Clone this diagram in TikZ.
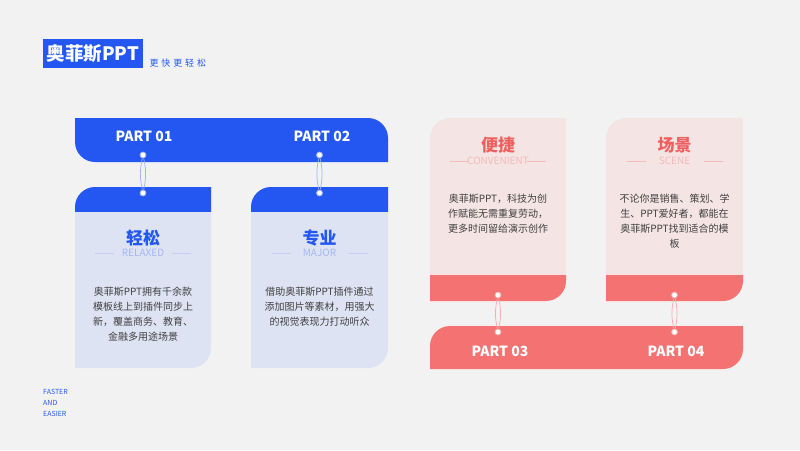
\documentclass[tikz,border=0pt]{standalone}
\usepackage{fontspec}
\setmainfont{Noto Sans CJK SC}
\usepackage{xcolor}
\usetikzlibrary{positioning}

\definecolor{bgray}{HTML}{F2F2F2}
\definecolor{pblue}{HTML}{2457F2}
\definecolor{lblue}{HTML}{DEE3F3}
\definecolor{sblue}{HTML}{A4B6F2}
\definecolor{lineblue}{HTML}{C3CEF2}
\definecolor{bring}{HTML}{9FB2EE}
\definecolor{pred}{HTML}{F47372}
\definecolor{lred}{HTML}{F5E4E4}
\definecolor{tred}{HTML}{EE6060}
\definecolor{sred}{HTML}{F4B9B9}
\definecolor{rring}{HTML}{F0AEAE}
\definecolor{textgray}{HTML}{404040}

\begin{document}
\begin{tikzpicture}[x=1pt,y=-1pt]
	\tikzset{ringdot/.style={circle,draw=#1,fill=white,line width=0.8pt,inner sep=0pt,minimum size=6pt},
		ringlink/.style={draw=#1,line width=0.7pt},
		partlabel/.style={text=white,font=\bfseries\fontsize{14}{16}\selectfont},
		cardtitle/.style={text=#1,font=\bfseries\fontsize{17}{19}\selectfont},
		cardsub/.style={text=#1,font=\fontsize{10}{12}\selectfont},
		subline/.style={draw=#1,line width=0.8pt},
		cardbody/.style={text=textgray,font=\fontsize{10}{15}\selectfont,align=center,inner sep=0pt,anchor=north}}

\fill[bgray] (0,0) rectangle (800,450);
\useasboundingbox (0,0) rectangle (800,450);

% heading
\fill[pblue] (43,39) rectangle (143,68);
\node[text=white,font=\bfseries\fontsize{18.5}{21}\selectfont] (brand) at (93,53.5) {奥菲斯PPT};
\node[anchor=west,text=pblue,font=\fontsize{9}{11}\selectfont\addfontfeature{LetterSpace=32}] (slogan) at (146,63.5) {更快更轻松};

% blue side
\fill[pblue] (75,118) -- (368,118) arc[start angle=270,end angle=360,radius=20] -- (388,162) -- (95,162) arc[start angle=90,end angle=180,radius=20] -- cycle;

\fill[pblue] (75,212) -- (75,207) arc[start angle=180,end angle=270,radius=20] -- (211,187) -- (211,212) -- cycle;
\fill[lblue] (75,212) -- (211,212) -- (211,348) arc[start angle=0,end angle=90,radius=20] -- (75,368) -- cycle;

\fill[pblue] (251,212) -- (251,207) arc[start angle=180,end angle=270,radius=20] -- (388,187) -- (388,212) -- cycle;
\fill[lblue] (251,212) -- (388,212) -- (388,348) arc[start angle=0,end angle=90,radius=20] -- (251,368) -- cycle;

% red side
\fill[lred] (430,275) -- (430,138) arc[start angle=180,end angle=270,radius=20] -- (566,118) -- (566,275) -- cycle;
\fill[pred] (430,275) -- (566,275) -- (566,281) arc[start angle=0,end angle=90,radius=20] -- (430,301) -- cycle;

\fill[lred] (606,275) -- (606,138) arc[start angle=180,end angle=270,radius=20] -- (743,118) -- (743,275) -- cycle;
\fill[pred] (606,275) -- (743,275) -- (743,281) arc[start angle=0,end angle=90,radius=20] -- (606,301) -- cycle;

\fill[pred] (430,369) -- (430,346) arc[start angle=180,end angle=270,radius=20] -- (743,326) -- (743,349) arc[start angle=0,end angle=90,radius=20] -- cycle;

% part labels
\node[partlabel] (p1) at (144,136) {PART 01};
\node[partlabel] (p2) at (322,136) {PART 02};
\node[partlabel] (p3) at (500,351) {PART 03};
\node[partlabel] (p4) at (676,351) {PART 04};

% rings
\node[ringdot=bring] (r1a) at (143,155) {};
\node[ringdot=bring] (r1b) at (143,193) {};
\node[ringdot=bring] (r2a) at (319.5,155) {};
\node[ringdot=bring] (r2b) at (319.5,193) {};
\node[ringdot=rring] (r3a) at (498,295) {};
\node[ringdot=rring] (r3b) at (498,332) {};
\node[ringdot=rring] (r4a) at (674.5,295) {};
\node[ringdot=rring] (r4b) at (674.5,332) {};

\draw[ringlink=bring] (r1a) to[bend left=12] (r1b);
\draw[ringlink=bring] (r1a) to[bend right=12] (r1b);
\draw[ringlink=bring] (r2a) to[bend left=12] (r2b);
\draw[ringlink=bring] (r2a) to[bend right=12] (r2b);
\draw[ringlink=rring] (r3a) to[bend left=12] (r3b);
\draw[ringlink=rring] (r3a) to[bend right=12] (r3b);
\draw[ringlink=rring] (r4a) to[bend left=12] (r4b);
\draw[ringlink=rring] (r4a) to[bend right=12] (r4b);

% card 1
\node[cardtitle=pblue] (t1) at (143,238) {轻松};
\node[cardsub=sblue] (s1) at (143,253) {RELAXED};
\draw[subline=lineblue] ([xshift=-29pt]s1.center) -- ++(-19,0);
\draw[subline=lineblue] ([xshift=29pt]s1.center) -- ++(19,0);
\node[cardbody] (b1) at (143,287) {奥菲斯PPT拥有千余款\\模板线上到插件同步上\\新，覆盖商务、教育、\\金融多用途场景};

% card 2
\node[cardtitle=pblue] (t2) at (319.5,238) {专业};
\node[cardsub=sblue] (s2) at (319.5,253) {MAJOR};
\draw[subline=lineblue] ([xshift=-29pt]s2.center) -- ++(-19,0);
\draw[subline=lineblue] ([xshift=29pt]s2.center) -- ++(19,0);
\node[cardbody] (b2) at (319.5,287) {借助奥菲斯PPT插件通过\\添加图片等素材，用强大\\的视觉表现力打动听众};

% card 3
\node[cardtitle=tred] (t3) at (498,145) {便捷};
\node[cardsub=sred] (s3) at (498,161) {CONVENIENT};
\draw[subline=sred] ([xshift=-29pt]s3.center) -- ++(-19,0);
\draw[subline=sred] ([xshift=29pt]s3.center) -- ++(19,0);
\node[cardbody] (b3) at (498,194) {奥菲斯PPT，科技为创\\作赋能无需重复劳动，\\更多时间留给演示创作};

% card 4
\node[cardtitle=tred] (t4) at (674.5,145) {场景};
\node[cardsub=sred] (s4) at (674.5,161) {SCENE};
\draw[subline=sred] ([xshift=-29pt]s4.center) -- ++(-19,0);
\draw[subline=sred] ([xshift=29pt]s4.center) -- ++(19,0);
\node[cardbody] (b4) at (674.5,194) {不论你是销售、策划、学\\生、PPT爱好者，都能在\\奥菲斯PPT找到适合的模\\板};

\node[anchor=north west,align=left,inner sep=0pt,text=pblue,font=\fontsize{7}{11}\selectfont] (tag) at (43,389.5) {FASTER\\AND\\EASIER};
\end{tikzpicture}
\end{document}
